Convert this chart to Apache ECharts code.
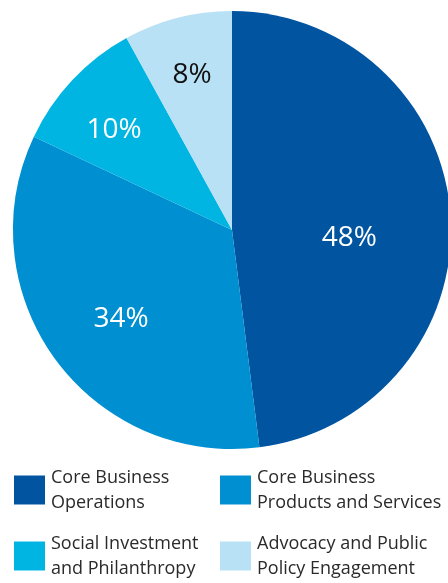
<!DOCTYPE html>
<html>
<head>
<meta charset="utf-8">
<script src="https://cdn.jsdelivr.net/npm/echarts@6/dist/echarts.min.js"></script>
<style>
  html, body { margin: 0; padding: 0; background: #ffffff; }
  #chart { width: 448px; height: 583px; }
</style>
</head>
<body>
<div id="chart"></div>
<script>
// Share of activity by category, in percent
const categories = [
  'Core Business Operations',
  'Core Business Products and Services',
  'Social Investment and Philanthropy',
  'Advocacy and Public Policy Engagement'
];
const values = [48, 34, 10, 8];
// Two-line legend captions for each category
const legendText = [
  'Core Business\nOperations',
  'Core Business\nProducts and Services',
  'Social Investment\nand Philanthropy',
  'Advocacy and Public\nPolicy Engagement'
];

const colors = ['#0054A0', '#008FD0', '#00B5E2', '#B8E1F5'];
const labelColors = ['#ffffff', '#ffffff', '#ffffff', '#111111'];
const labelOffsets = [[5, 15], [-20, 23], [-36, -23], [-12, -46]];

const chart = echarts.init(document.getElementById('chart'), null, { renderer: 'canvas' });

const pieData = categories.map((name, i) => ({
  name: name,
  value: values[i],
  itemStyle: { color: colors[i] },
  label: { color: labelColors[i], offset: labelOffsets[i] }
}));

const captionOf = name => legendText[categories.indexOf(name)];

const legendCommon = {
  orient: 'vertical',
  icon: 'rect',
  padding: 0,
  itemWidth: 31,
  itemHeight: 29,
  itemGap: 16,
  selectedMode: false,
  formatter: captionOf,
  textStyle: {
    fontFamily: 'Open Sans',
    fontSize: 18,
    lineHeight: 25,
    color: '#2a2a2a',
    padding: [0, 0, 0, 1]
  }
};

chart.setOption({
  animation: false,
  legend: [
    Object.assign({}, legendCommon, { left: 14, top: 465, data: [categories[0], categories[2]] }),
    Object.assign({}, legendCommon, { left: 220, top: 465, data: [categories[1], categories[3]] })
  ],
  series: [{
    type: 'pie',
    center: [232, 230],
    radius: [0, 219],
    startAngle: 90,
    clockwise: true,
    data: pieData,
    label: {
      show: true,
      position: 'inside',
      formatter: '{c}%',
      fontFamily: 'Open Sans',
      fontSize: 28,
      fontWeight: 'normal'
    },
    labelLine: { show: false },
    emphasis: { disabled: true }
  }]
});
</script>
</body>
</html>
